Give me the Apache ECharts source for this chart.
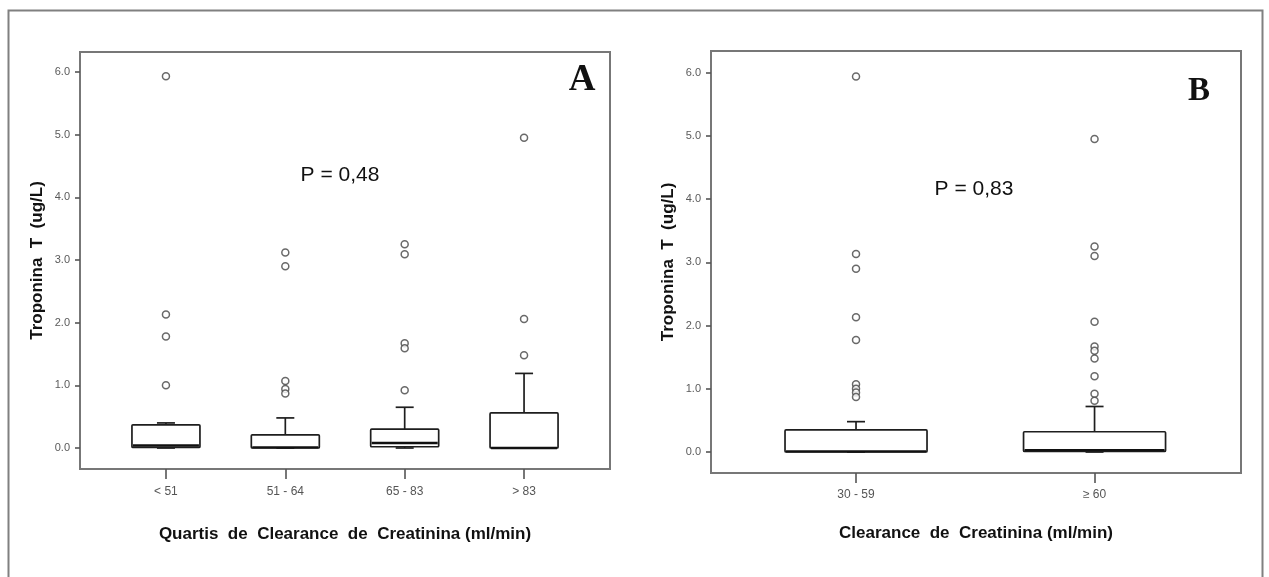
<!DOCTYPE html>
<html>
<head>
<meta charset="utf-8">
<script src="https://cdn.jsdelivr.net/npm/echarts@6/dist/echarts.min.js"></script>
<style>
  html, body { margin: 0; padding: 0; background: #fff; }
  #main { width: 1269px; height: 577px; }
</style>
</head>
<body>
<div id="main"></div>
<script>
// painel A: quartis
var catsA = ['< 51', '51 - 64', '65 - 83', '> 83'];
// [min, Q1, mediana, Q3, max]
var boxA = [
  [0.00, 0.01, 0.04, 0.37, 0.40],
  [0.00, 0.00, 0.01, 0.21, 0.48],
  [0.00, 0.02, 0.08, 0.30, 0.65],
  [0.00, 0.00, 0.00, 0.56, 1.19]
];
var outA = [
  [5.93, 2.13, 1.78, 1.00],
  [3.12, 2.90, 1.07, 0.94, 0.87],
  [3.25, 3.09, 1.67, 1.59, 0.92],
  [4.95, 2.06, 1.48]
];

// painel B
var catsB = ['30 - 59', '≥ 60'];
var boxB = [
  [0.00, 0.00, 0.01, 0.35, 0.48],
  [0.00, 0.01, 0.03, 0.32, 0.72]
];
var outB = [
  [5.94, 3.13, 2.90, 2.13, 1.77, 1.07, 1.00, 0.94, 0.87],
  [4.95, 3.25, 3.10, 2.06, 1.67, 1.60, 1.48, 1.20, 0.92, 0.81]
];

var yTicks = [0, 1, 2, 3, 4, 5, 6];

var FONT = "'Liberation Sans', Arial, sans-serif";

function boxData(box) {
  return box.map(function (b, i) { return [i].concat(b); });
}
function outData(out) {
  var res = [];
  out.forEach(function (list, i) {
    list.forEach(function (v) { res.push([i, v]); });
  });
  return res;
}

function boxRenderer(boxW, capW) {
  return function (params, api) {
    var x = api.value(0);
    var lo = api.coord([x, api.value(1)]);
    var q1 = api.coord([x, api.value(2)]);
    var md = api.coord([x, api.value(3)]);
    var q3 = api.coord([x, api.value(4)]);
    var hi = api.coord([x, api.value(5)]);
    var cx = q1[0], h = boxW / 2, c = capW / 2;
    var st = { stroke: '#1e1e1e', lineWidth: 1.7 };
    return {
      type: 'group',
      children: [
        { type: 'line', shape: { x1: cx, y1: q3[1], x2: cx, y2: hi[1] }, style: st },
        { type: 'line', shape: { x1: cx - c, y1: hi[1], x2: cx + c, y2: hi[1] }, style: st },
        { type: 'line', shape: { x1: cx, y1: q1[1], x2: cx, y2: lo[1] }, style: st },
        { type: 'line', shape: { x1: cx - c, y1: lo[1], x2: cx + c, y2: lo[1] }, style: st },
        { type: 'rect', shape: { x: cx - h, y: q3[1], width: boxW, height: q1[1] - q3[1], r: 1 },
          style: { fill: '#fff', stroke: '#1e1e1e', lineWidth: 1.7 } },
        { type: 'line', shape: { x1: cx - h + 1, y1: md[1], x2: cx + h - 1, y2: md[1] },
          style: { stroke: '#111', lineWidth: 2.4 } }
      ]
    };
  };
}

function xAxisOf(idx, cats, min, max, margin, gap, title) {
  var vals = cats.map(function (c, i) { return i; });
  return {
    gridIndex: idx, type: 'value', min: min, max: max,
    splitLine: { show: false },
    axisLine: { show: false, onZero: false },
    axisTick: { show: true, customValues: vals, length: 10, lineStyle: { color: '#555', width: 1.6 } },
    axisLabel: {
      customValues: vals, margin: margin, color: '#555', fontSize: 12, fontFamily: FONT,
      formatter: function (v) { return cats[Math.round(v)]; }
    },
    name: title, nameLocation: 'middle', nameGap: gap,
    nameTextStyle: { fontSize: 17, fontWeight: 'bold', color: '#111', fontFamily: FONT }
  };
}

function yAxisOf(idx, min, max) {
  return {
    gridIndex: idx, type: 'value', min: min, max: max,
    splitLine: { show: false },
    axisLine: { show: false, onZero: false },
    axisTick: { show: true, customValues: yTicks, length: 5, lineStyle: { color: '#555', width: 1.6 } },
    axisLabel: {
      customValues: yTicks, margin: 10, color: '#5a5a5a', fontSize: 11, fontFamily: FONT,
      formatter: function (v) { return v.toFixed(1); }
    },
    name: 'Troponina  T  (ug/L)', nameLocation: 'middle', nameGap: 34,
    nameTextStyle: { fontSize: 17, fontWeight: 'bold', color: '#111', fontFamily: FONT }
  };
}

var outStyle = { color: '#fff', borderColor: '#444', borderWidth: 1.5 };

var chart = echarts.init(document.getElementById('main'));
chart.setOption({
  animation: false,
  backgroundColor: '#fff',
  grid: [
    { left: 80, top: 52, width: 530, height: 417, show: true, borderColor: '#777', borderWidth: 2,
      backgroundColor: 'transparent', outerBoundsMode: 'none' },
    { left: 711, top: 51, width: 530, height: 422, show: true, borderColor: '#777', borderWidth: 2,
      backgroundColor: 'transparent', outerBoundsMode: 'none' }
  ],
  xAxis: [
    xAxisOf(0, catsA, -0.72, 3.72, 17, 57, 'Quartis  de  Clearance  de  Creatinina (ml/min)'),
    xAxisOf(1, catsB, -0.608, 1.614, 16, 52, 'Clearance  de  Creatinina (ml/min)')
  ],
  yAxis: [
    yAxisOf(0, -0.335, 6.318),
    yAxisOf(1, -0.332, 6.342)
  ],
  series: [
    { type: 'custom', xAxisIndex: 0, yAxisIndex: 0, data: boxData(boxA),
      encode: { x: 0, y: [1, 2, 3, 4, 5] }, renderItem: boxRenderer(68, 18) },
    { type: 'scatter', xAxisIndex: 0, yAxisIndex: 0, data: outData(outA),
      symbol: 'circle', symbolSize: 7, itemStyle: outStyle },
    { type: 'custom', xAxisIndex: 1, yAxisIndex: 1, data: boxData(boxB),
      encode: { x: 0, y: [1, 2, 3, 4, 5] }, renderItem: boxRenderer(142, 18) },
    { type: 'scatter', xAxisIndex: 1, yAxisIndex: 1, data: outData(outB),
      symbol: 'circle', symbolSize: 7, itemStyle: outStyle }
  ],
  graphic: [
    { type: 'rect', shape: { x: 8.5, y: 10.5, width: 1254, height: 575 },
      style: { fill: 'transparent', stroke: '#808080', lineWidth: 2 }, silent: true },
    { type: 'text', x: 340, y: 175, style: { text: 'P = 0,48', font: '21px ' + FONT,
      fill: '#111', textAlign: 'center', textVerticalAlign: 'middle' } },
    { type: 'text', x: 974, y: 189, style: { text: 'P = 0,83', font: '21px ' + FONT,
      fill: '#111', textAlign: 'center', textVerticalAlign: 'middle' } },
    { type: 'text', x: 582, y: 80, style: { text: 'A', font: 'bold 37px "Liberation Serif", serif',
      fill: '#111', textAlign: 'center', textVerticalAlign: 'middle' } },
    { type: 'text', x: 1199, y: 91, style: { text: 'B', font: 'bold 33px "Liberation Serif", serif',
      fill: '#111', textAlign: 'center', textVerticalAlign: 'middle' } }
  ]
});
</script>
</body>
</html>
